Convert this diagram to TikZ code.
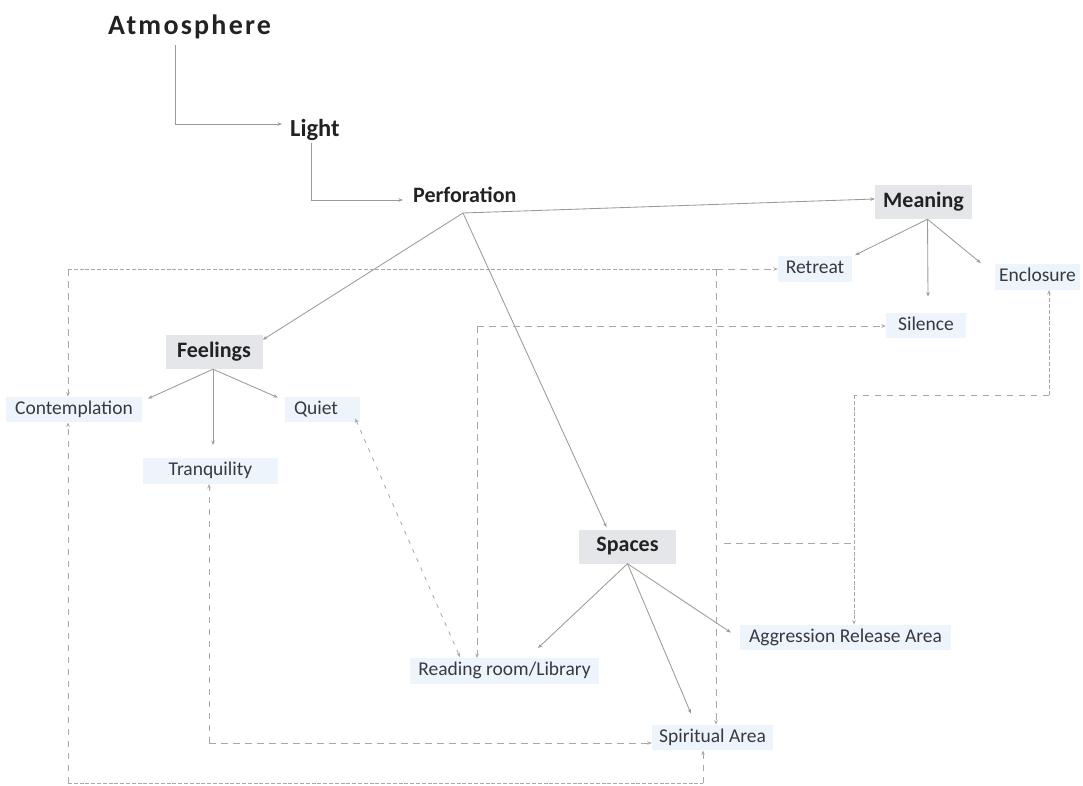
\documentclass[tikz,border=0pt]{standalone}
\usepackage{fontspec}
\setmainfont{Carlito}
\usetikzlibrary{arrows.meta}

\definecolor{ink}{HTML}{222222}
\definecolor{labelink}{HTML}{363A40}
\definecolor{hdfill}{HTML}{E4E6E9}
\definecolor{lbfill}{HTML}{EDF4FC}
\definecolor{wire}{HTML}{9A9A9A}
\definecolor{dwire}{HTML}{A8A8A8}

\begin{document}
\begin{tikzpicture}[x=1pt,y=-1pt,
  tip/.style={-{Stealth[length=4.5pt,width=3.5pt]}},
  title/.style={font={\fontsize{28}{32}\selectfont\bfseries\addfontfeature{LetterSpace=8}},
    text=ink, inner sep=0pt, anchor=base west},
  stagebig/.style={font={\fontsize{24.5}{28}\selectfont\bfseries}, text=ink,
    inner ysep=0pt, anchor=base west},
  stage/.style={font={\fontsize{22}{26}\selectfont\bfseries}, text=ink,
    inner ysep=0pt, anchor=base west},
  head/.style={font={\fontsize{22}{26}\selectfont\bfseries}, text=ink, fill=hdfill,
    minimum width=97pt, text height=15pt, text depth=5pt, inner ysep=7pt, inner xsep=4pt},
  lbl/.style={font={\fontsize{19.5}{23}\selectfont}, text=labelink, fill=lbfill,
    text height=13.5pt, text depth=4pt, inner ysep=4pt, inner xsep=4pt},
  wireline/.style={draw=wire, line width=0.85pt, tip},
  dashline/.style={draw=dwire, line width=0.85pt, dash pattern=on 6.5pt off 5.5pt, tip},
  denseline/.style={draw=dwire, line width=0.85pt, dash pattern=on 4pt off 1.8pt, tip},
  diagline/.style={draw=dwire, line width=0.85pt, dash pattern=on 4pt off 6pt,
    {Stealth[length=4.5pt,width=3.5pt]}-{Stealth[length=4.5pt,width=3.5pt]}},
]
\useasboundingbox (0,0) rectangle (1083,785);

% chain of headings
\node[title] (atm) at (108,34) {Atmosphere};
\node[stagebig, inner xsep=8pt] (light) at (282,136) {Light};
\node[stage, inner xsep=10pt] (perf) at (403,202) {Perforation};

% category boxes
\node[head] (meaning) at (923.5,202) {Meaning};
\node[head] (feelings) at (214,352) {Feelings};
\node[head] (spaces) at (627.5,546.5) {Spaces};

% leaf labels
\node[lbl, minimum width=74pt] (retreat) at (815,269) {Retreat};
\node[lbl, minimum width=85pt] (enclosure) at (1037.5,277) {Enclosure};
\node[lbl, minimum width=80pt] (silence) at (926,325.5) {Silence};
\node[lbl, minimum width=136pt] (contemplation) at (74,409.5) {Contemplation};
\node[lbl, text width=57pt, align=left, inner xsep=9pt] (quiet) at (322.5,409.5) {Quiet};
\node[lbl, minimum width=135pt] (tranquility) at (210.5,471) {Tranquility};
\node[lbl, minimum width=189pt] (reading) at (504.5,671) {Reading room/Library};
\node[lbl, minimum width=211pt] (aggression) at (845.5,637.5) {Aggression Release Area};
\node[lbl, minimum width=121pt] (spiritual) at (712.5,737.5) {Spiritual Area};

% elbow links down the heading chain
\draw[wireline] ([xshift=67pt,yshift=-11pt]atm.base west) |- ([yshift=12pt]light.base west);
\draw[wireline] ([xshift=29pt,yshift=-7pt]light.base west) |- ([yshift=2pt]perf.base west);

% Perforation fans out
\coordinate (fork) at ([xshift=60pt,yshift=-11pt]perf.base west);
\draw[wireline] (fork) -- ([yshift=3pt]meaning.west);
\draw[wireline] (fork) -- ([yshift=-5pt]feelings.north east);
\draw[wireline] (fork) -- ([xshift=-21pt,yshift=2pt]spaces.north);

% Meaning branches
\draw[wireline] ([xshift=4pt]meaning.south) -- ([xshift=3pt,yshift=1pt]retreat.north east);
\draw[wireline] ([xshift=4pt]meaning.south) -- ([xshift=2pt,yshift=16pt]silence.north);
\draw[wireline] ([xshift=4pt]meaning.south) -- ([xshift=-14pt,yshift=1pt]enclosure.north west);

% Feelings branches
\draw[wireline] ([xshift=-1pt]feelings.south) -- ([xshift=6pt,yshift=-2pt]contemplation.north east);
\draw[wireline] ([xshift=-1pt]feelings.south) -- ([xshift=2.5pt,yshift=13pt]tranquility.north);
\draw[wireline] ([xshift=-1pt]feelings.south) -- ([xshift=-7pt,yshift=-1pt]quiet.north west);

% Spaces branches
\draw[wireline] (spaces.south) -- ([xshift=33.5pt,yshift=10pt]reading.north);
\draw[wireline] (spaces.south) -- ([xshift=-21.5pt,yshift=11pt]spiritual.north);
\draw[wireline] (spaces.south) -- ([xshift=-9pt,yshift=5pt]aggression.west);

% cross links: Retreat / Contemplation / Spiritual Area
\coordinate (topR) at (716,269);
\coordinate (topL) at (68,269);
\draw[dashline] (topR) -- (retreat.west);
\draw[dashline] (topR) -- (topR |- spiritual.north);
\draw[denseline, -] (topL) -- (topR);
\draw[dashline] (topL) -- (topL |- contemplation.north);

% loop under the picture: Contemplation / Spiritual Area
\coordinate (botL) at (68,783);
\coordinate (botR) at (703,783);
\draw[dashline] (botL) -- (topL |- contemplation.south);
\draw[denseline, -] (botL) -- (botR);
\draw[dashline] (botR) -- (botR |- spiritual.south);

% Silence / Reading room
\coordinate (silBend) at (477,326);
\draw[dashline] (silBend) -- (silBend -| silence.west);
\draw[dashline] (silBend) -- (silBend |- reading.north);

% Quiet / Reading room
\draw[diagline] ([xshift=-5pt,yshift=4pt]quiet.south east) -- ([xshift=-44.5pt,yshift=1pt]reading.north);

% Tranquility / Spiritual Area
\coordinate (trqBend) at (209,743);
\draw[dashline] (trqBend) -- (trqBend |- tranquility.south);
\draw[dashline] (trqBend) -- (trqBend -| spiritual.west);

% Enclosure / Aggression Release Area
\coordinate (encBend) at (1049,395);
\coordinate (aggBend) at (854,395);
\coordinate (midL) at (724,543);
\coordinate (midR) at (854,543);
\draw[denseline] (encBend) -- (encBend |- enclosure.south);
\draw[dashline, -] (encBend) -- (aggBend);
\draw[denseline] (aggBend) -- (aggBend |- aggression.north);
\draw[dashline, -] (midL) -- (midR);
\end{tikzpicture}
\end{document}
